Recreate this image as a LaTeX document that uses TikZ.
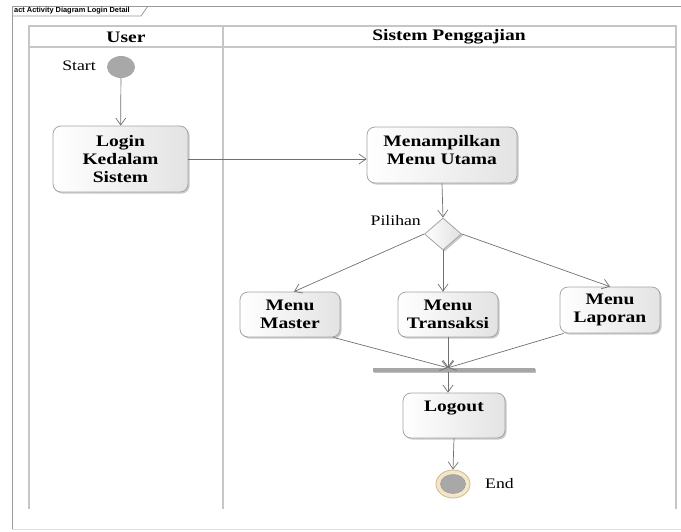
\documentclass[tikz,border=0pt]{standalone}
\usepackage{fontspec}
\setmainfont[FakeStretch=1.22]{Liberation Serif}
\newfontfamily\tabfont{Liberation Sans}
\usetikzlibrary{arrows.meta,shapes.geometric,shadows,calc}

\definecolor{framegray}{HTML}{9A9A9A}
\definecolor{lanegray}{HTML}{C6C6C6}
\definecolor{edgegray}{HTML}{A4A4A4}
\definecolor{flowgray}{HTML}{707070}
\definecolor{dotgray}{HTML}{A8A8A8}
\definecolor{ringfill}{HTML}{F4E6C8}
\definecolor{ringedge}{HTML}{CDB88F}

\tikzset{
  x=1pt, y=-1pt,
  frame/.style={draw=framegray, line width=1pt},
  lane/.style={draw=lanegray, line width=1.3pt},
  softshadow/.style={drop shadow={shadow xshift=1.6pt, shadow yshift=-1.6pt, opacity=0.35, fill=black!60}},
  action/.style={draw=edgegray, line width=0.8pt, rounded corners=8pt,
    left color=white, right color=black!11, softshadow,
    font=\bfseries\fontsize{16}{18}\selectfont, align=center, inner sep=0pt},
  boxtext/.style={font=\bfseries\fontsize{16}{18}\selectfont, align=center, inner sep=0pt},
  decision/.style={diamond, draw=edgegray, line width=0.8pt, aspect=1.15,
    minimum width=37pt, minimum height=32pt, inner sep=0pt,
    left color=white, right color=black!12, softshadow},
  hdr/.style={font=\bfseries\fontsize{16}{18}\selectfont, inner sep=0pt},
  lbl/.style={font=\fontsize{14.5}{17}\selectfont, inner sep=0pt},
  flow/.style={draw=flowgray, line width=0.7pt, -{Straight Barb[length=7pt,width=10pt]}},
}

\begin{document}
\begin{tikzpicture}
\useasboundingbox (0,0) rectangle (681,531);

% diagram frame and name tab
\draw[frame] (681,6) -- (12,6) -- (12,529);
\draw[draw=black!12, line width=0.8pt] (12,529) -- (681,529);
\draw[frame, line width=0.8pt] (12,16) -- (141,16) -- (148,6);
\node[font=\tabfont\bfseries\fontsize{7.4}{8}\selectfont, anchor=west, inner sep=0pt] (tab) at (14,11) {act Activity Diagram Login Detail};

% swimlanes
\draw[lane] (29,509) -- (29,26) -- (676,26) -- (676,509);
\draw[lane] (29,47) -- (676,47);
\draw[lane] (223,26) -- (223,509);
\node[hdr] (userhdr) at (126,37) {User};
\node[hdr] (syshdr) at (449,37) {Sistem Penggajian};

% initial node
\node[ellipse, fill=dotgray, minimum width=28pt, minimum height=22pt, inner sep=0pt] (start) at (121,67) {};
\node[lbl, anchor=east] (startlbl) at (96,66) {Start};

% actions
\node[action, minimum width=135pt, minimum height=66pt] (login) at (120.5,159) {Login\\Kedalam\\Sistem};
\node[action, minimum width=150pt, minimum height=56pt] (menu) at (442,155) {};
\node[boxtext] (menutext) at ($(menu.center)+(0,-5)$) {Menampilkan\\Menu Utama};

\node[decision] (choice) at (443,234) {};
\node[lbl, anchor=east] (choicelbl) at (421,221) {Pilihan};

\node[action, minimum width=100pt, minimum height=45pt] (master) at (290,314.5) {Menu\\Master};
\node[action, minimum width=100pt, minimum height=45pt] (transaksi) at (448,314.5) {Menu\\Transaksi};
\node[action, minimum width=100pt, minimum height=46pt] (laporan) at (610,310) {Menu\\Laporan};

% join bar
\node[fill=black!35, minimum width=162pt, minimum height=4pt, inner sep=0pt,
      drop shadow={shadow xshift=1pt, shadow yshift=-1pt, opacity=0.25, fill=black}] (bar) at (454,370) {};

\node[action, minimum width=102pt, minimum height=45pt] (logout) at (454,415.5) {};
\node[boxtext] (logouttext) at ($(logout.center)+(0,-7)$) {Logout};

% final node
\node[ellipse, fill=ringfill, draw=ringedge, line width=0.8pt, minimum width=34pt, minimum height=28pt, inner sep=0pt] (end) at (453,484) {};
\node[ellipse, fill=dotgray, draw=black!40, line width=0.5pt, minimum width=25pt, minimum height=19pt, inner sep=0pt] (endcore) at (end.center) {};
\node[lbl, anchor=west] (endlbl) at (485,484) {End};

% control flows
\draw[flow] (start) -- (login);
\draw[flow] (login.east) -- (menu.west |- login.east);
\draw[flow] (menu.south) -- (choice.north);
\draw[flow] (choice.west) -- ($(master.north)+(4,0)$);
\draw[flow] (choice.south) -- (choice.south |- transaksi.north);
\draw[flow] (choice.east) -- (laporan.north);
\draw[flow] ($(master.south east)+(-7,0)$) -- (transaksi.south |- bar.north);
\draw[flow] (transaksi.south) -- (transaksi.south |- bar.north);
\draw[flow] ($(laporan.south west)+(4,0)$) -- (transaksi.south |- bar.north);
\draw[flow] (bar.south -| transaksi.south) -- (logout.north -| transaksi.south);
\draw[flow] (logout.south) -- (end.north);
\end{tikzpicture}
\end{document}
